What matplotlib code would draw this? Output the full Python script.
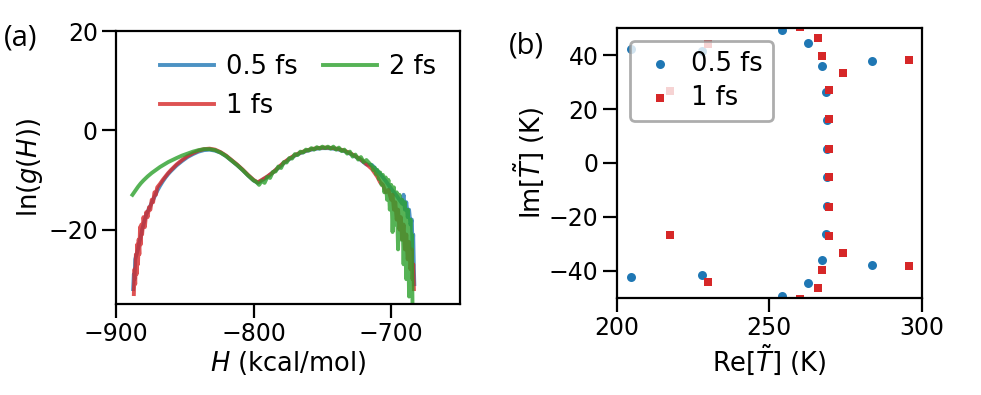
import numpy as np
import matplotlib
matplotlib.use("Agg")
import matplotlib.pyplot as plt

# panel (a): ln g(H)
H_05 = [-887.5, -887, -886.5, -886, -885, -884, -883, -882, -881, -880,
        -879, -878, -876, -874, -872, -870, -868, -866, -864, -862,
        -860, -856, -852, -848, -844, -840, -836, -832, -828, -824,
        -820, -816, -812, -808, -804, -800, -797, -794, -790, -786,
        -782, -778, -774, -770, -766, -762, -758, -754, -750, -746,
        -742, -738, -734, -730, -726, -722, -718,
        -714, -712, -710, -708, -706, -704, -702, -700, -698, -696,
        -694, -692, -691, -690, -689, -688, -687, -686, -685, -684.5,
        -684, -683.5, -683.2]
lng_05 = [-32, -29, -30, -26, -25, -24, -22.5, -21.5, -20, -19,
          -18, -17, -15.8, -14.6, -13.4, -12.2, -11.2, -10.3, -9.5, -8.8,
          -8.2, -7.1, -6.2, -5.4, -4.8, -4.3, -4.0, -3.9, -4.1, -4.5,
          -5.2, -6.1, -7.0, -8.0, -9.1, -10.1, -10.6, -10.1, -9.4, -8.5,
          -7.6, -6.6, -5.8, -5.1, -4.6, -4.2, -3.9, -3.7, -3.6, -3.6,
          -3.7, -3.9, -4.2, -4.7, -5.3, -6.0, -6.9,
          -7.0, -7.6, -8.2, -8.8, -9.5, -10.2, -11.0, -11.8, -12.5, -13.2,
          -14.0, -14.8, -13.0, -16.0, -14.5, -17.5, -16.0, -19.0, -18.0, -24.0,
          -21.0, -28.0, -31.0]

H_1 = [-887, -886.5, -886, -885.5, -885, -884.5, -884, -883.5, -883, -882.5,
       -882, -881.5, -881, -880, -879, -878, -877, -876, -875, -874,
       -873, -872, -871, -870, -868, -866, -864, -862, -860, -856,
       -852, -848, -844, -840, -836, -832, -828, -824, -820, -816,
       -812, -808, -804, -800, -797, -794, -790, -786, -782, -778,
       -774, -770, -766, -762, -758, -754, -750, -746, -742, -738,
       -734, -730, -726, -722, -718,
       -714, -712, -710, -708, -706, -704, -702, -700,
       -699, -698, -697, -696, -695, -694, -693, -692, -691, -690,
       -689, -688, -687, -686, -685, -684.5, -684, -683.5]
lng_1 = [-33, -28, -31, -25, -29, -23, -27, -22, -25, -19.5,
         -23, -19, -21, -17.5, -19.5, -16.5, -17.5, -15.5, -16, -14,
         -14.5, -12.5, -13, -11.5, -10.8, -10, -9.3, -8.6, -8, -6.9,
         -6, -5.2, -4.6, -4.1, -3.8, -3.7, -3.9, -4.4, -5.1, -6.0,
         -6.9, -7.9, -9.0, -10.0, -10.5, -10.0, -9.3, -8.5, -7.5, -6.5,
         -5.7, -5.0, -4.5, -4.1, -3.8, -3.6, -3.5, -3.5, -3.6, -3.8,
         -4.1, -4.6, -5.2, -5.9, -6.8,
         -7.8, -8.6, -9.4, -10.5, -11.0, -12.5, -12.0, -14.0,
         -13.0, -16.0, -14.5, -18.0, -16.0, -20.0, -17.5, -22.0, -19.0, -24.0,
         -21.0, -26.0, -22.5, -28.0, -24.0, -30.0, -27.0, -32.0]

H_2 = [-888, -886, -884, -882, -880, -877, -874, -871, -868, -865,
       -862, -859, -856, -852, -848, -844, -840, -836, -832, -828,
       -824, -820, -816, -812, -808, -804, -800, -798, -796, -794,
       -792, -790, -788, -786, -784, -782, -780, -778, -776, -774,
       -772, -770, -768, -766, -764, -762, -760, -758, -756, -754,
       -752, -750, -748, -746, -744, -742, -740, -738, -736, -734,
       -732, -730, -728, -726, -724, -722, -720, -718, -716,
       -714, -713, -712, -711, -710, -709, -708, -707, -706, -705,
       -704, -703, -702, -701, -700, -699, -698, -697, -696, -695,
       -694, -693, -692, -691, -690, -689, -688, -687, -686, -685.5,
       -685, -684.5]
lng_2 = [-13.0, -12.2, -11.4, -10.7, -10.1, -9.3, -8.6, -8.0, -7.4, -6.9,
         -6.4, -6.0, -5.6, -5.1, -4.7, -4.3, -4.0, -3.8, -3.8, -4.0,
         -4.5, -5.2, -6.1, -7.0, -8.0, -9.1, -10.1, -10.4, -11.0, -10.2,
         -10.6, -9.4, -9.6, -8.4, -8.3, -7.3, -7.6, -6.4, -6.5, -5.6,
         -5.7, -4.8, -5.0, -4.3, -4.5, -3.9, -4.1, -3.6, -3.9, -3.4,
         -3.7, -3.3, -3.6, -3.3, -3.7, -3.3, -3.9, -3.5, -4.2, -3.9,
         -4.7, -4.3, -5.3, -4.9, -5.9, -5.4, -6.4, -6.0, -6.6,
         -7.2, -8.0, -7.5, -8.8, -8.0, -9.8, -8.5, -11.0, -9.0, -12.5,
         -9.5, -14.0, -10.0, -16.0, -11.0, -20.5, -11.5, -19.0, -12.5, -24.0,
         -13.0, -22.0, -14.0, -27.0, -14.5, -30.0, -16.0, -33.5, -18.0, -30.0,
         -21.0, -35.5]

# panel (b): complex temperatures
re_05 = [204.7, 227.9, 254.3, 262.8, 267.2, 268.5, 268.8, 268.8, 268.8,
         268.8, 268.5, 267.2, 262.8, 254.3, 283.6, 283.6, 204.7, 227.9]
im_05 = [42.3, 41.4, 49.1, 44.4, 35.8, 26.3, 15.9, 5.2, -5.2,
         -15.9, -26.3, -35.8, -44.4, -49.1, 37.6, -37.6, -42.3, -41.4]
re_1 = [260.1, 266.1, 267.2, 274.0, 269.6, 269.6, 269.6, 269.6, 269.6, 269.6,
        274.0, 267.2, 266.1, 260.1, 295.6, 295.6, 217.5, 217.5, 230.0, 230.0]
im_1 = [50.3, 46.2, 39.6, 33.3, 27.2, 16.2, 5.3, -5.3, -16.2, -27.2,
        -33.3, -39.6, -46.2, -50.3, 38.3, -38.3, 26.6, -26.6, 44.2, -44.2]

assert len(H_05) == len(lng_05) and len(H_1) == len(lng_1) and len(H_2) == len(lng_2)

blue = "#1f77b4"
red = "#d62728"
green = "#2ca02c"

plt.rcParams["font.family"] = ["DejaVu Sans"]
plt.rcParams["mathtext.fontset"] = "dejavusans"

fig = plt.figure(figsize=(9.81, 3.95), dpi=100)
ax1 = fig.add_axes([0.1182, 0.2304, 0.3507, 0.6911])
ax2 = fig.add_axes([0.6286, 0.2456, 0.3112, 0.6835])

ax1.plot(H_05, lng_05, color=blue, lw=2.8, alpha=0.8, label="0.5 fs")
ax1.plot(H_1, lng_1, color=red, lw=2.8, alpha=0.8, label="1 fs")
ax1.plot(H_2, lng_2, color=green, lw=2.8, alpha=0.8, label="2 fs")
ax1.set_xlim(-900, -650)
ax1.set_ylim(-35, 20)
ax1.set_xticks([-900, -800, -700])
ax1.set_yticks([-20, 0, 20])
ax1.set_xlabel("$H$ (kcal/mol)", fontsize=18.5, labelpad=2)
ax1.set_ylabel(r"$\ln(g(H))$", fontsize=18.5, labelpad=2)
ax1.legend(loc="upper center", ncol=2, frameon=False, fontsize=18.5,
           handlelength=2.1, handletextpad=0.45, columnspacing=1.0,
           labelspacing=0.5, bbox_to_anchor=(0.53, 1.0))

ax2.scatter(re_05, im_05, s=42, marker="o", color=blue, linewidth=0,
            label="0.5 fs", zorder=2)
ax2.scatter(re_1, im_1, s=38, marker="s", color=red, linewidth=0,
            label="1 fs", zorder=2)
ax2.set_xlim(200, 300)
ax2.set_ylim(-50, 50)
ax2.set_xticks([200, 250, 300])
ax2.set_yticks([-40, -20, 0, 20, 40])
ax2.set_xlabel(r"Re[$\tilde{T}$] (K)", fontsize=18.5, labelpad=2)
ax2.set_ylabel(r"Im[$\tilde{T}$] (K)", fontsize=18.5, labelpad=2)
leg = ax2.legend(loc="upper left", fontsize=18.5, framealpha=0.8,
                 borderaxespad=0.5, labelspacing=0.3, handlelength=1.6,
                 handletextpad=0.4)
leg.get_frame().set_edgecolor("0.6")
leg.get_frame().set_linewidth(2)

for ax in (ax1, ax2):
    for s in ax.spines.values():
        s.set_linewidth(1.6)
    ax.tick_params(labelsize=17, length=10, width=1.6, direction="out", pad=3)

fig.text(0.004, 0.885, "(a)", fontsize=21, family=["Open Sans", "DejaVu Sans"])
fig.text(0.519, 0.865, "(b)", fontsize=21, family=["Open Sans", "DejaVu Sans"])

fig.savefig("out.png", dpi=100)
